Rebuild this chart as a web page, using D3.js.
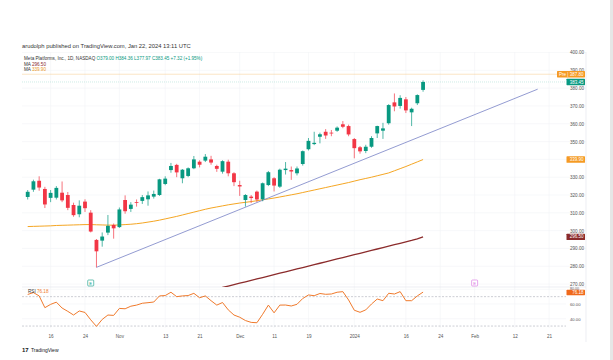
<!DOCTYPE html>
<html>
<head>
<meta charset="utf-8">
<script src="https://cdn.jsdelivr.net/npm/d3@7"></script>
<style>
  body { margin: 0; background: #fff; }
  svg text { font-family: "Liberation Sans", Arial, sans-serif; }
</style>
</head>
<body>
<script>
// trading days shown on the axis (incl. future space on the right)
var dates = [
  "2023-10-10","2023-10-11","2023-10-12","2023-10-13","2023-10-16","2023-10-17","2023-10-18","2023-10-19","2023-10-20",
  "2023-10-23","2023-10-24","2023-10-25","2023-10-26","2023-10-27","2023-10-30","2023-10-31",
  "2023-11-01","2023-11-02","2023-11-03","2023-11-06","2023-11-07","2023-11-08","2023-11-09","2023-11-10",
  "2023-11-13","2023-11-14","2023-11-15","2023-11-16","2023-11-17","2023-11-20","2023-11-21","2023-11-22","2023-11-24",
  "2023-11-27","2023-11-28","2023-11-29","2023-11-30",
  "2023-12-01","2023-12-04","2023-12-05","2023-12-06","2023-12-07","2023-12-08","2023-12-11","2023-12-12","2023-12-13",
  "2023-12-14","2023-12-15","2023-12-18","2023-12-19","2023-12-20","2023-12-21","2023-12-22","2023-12-26","2023-12-27",
  "2023-12-28","2023-12-29",
  "2024-01-02","2024-01-03","2024-01-04","2024-01-05","2024-01-08","2024-01-09","2024-01-10","2024-01-11","2024-01-12",
  "2024-01-16","2024-01-17","2024-01-18","2024-01-19","2024-01-22","2024-01-23","2024-01-24","2024-01-25","2024-01-26",
  "2024-01-29","2024-01-30","2024-01-31",
  "2024-02-01","2024-02-02","2024-02-05","2024-02-06","2024-02-07","2024-02-08","2024-02-09","2024-02-12","2024-02-13",
  "2024-02-14","2024-02-15","2024-02-16","2024-02-20","2024-02-21","2024-02-22","2024-02-23","2024-02-26","2024-02-27"
];

// daily candles, Oct 10 2023 .. Jan 19 2024
var open  = [318.9,323.0,328.0,323.4,318.4,318.5,321.3,320.0,314.4,309.2,316.3,310.1,294.8,294.4,298.9,303.2,
             302.0,317.2,312.2,316.0,316.7,317.6,319.1,320.0,326.2,334.0,336.9,329.4,330.7,335.0,338.7,339.3,340.0,
             336.3,333.1,338.7,332.2,325.6,317.2,319.1,321.9,317.6,325.6,329.4,324.7,334.0,334.0,332.2,337.4,345.7,
             348.6,352.7,355.5,355.0,356.1,359.7,358.7,351.4,346.8,344.7,347.1,354.6,356.1,360.3,372.0,370.0,373.7,
             366.4,371.5,379.0];
var high  = [322.8,328.6,330.5,324.6,322.8,325.0,327.6,321.7,315.7,317.0,317.6,311.5,295.3,299.0,308.8,304.0,
             313.0,319.8,316.0,317.5,320.0,322.0,322.5,329.1,330.5,338.0,337.5,334.6,335.5,341.9,339.5,343.0,342.0,
             337.0,339.5,339.8,332.8,328.0,320.5,320.0,322.5,327.0,333.5,330.0,334.8,338.5,336.0,336.0,345.0,352.0,
             355.5,355.0,357.0,356.5,358.5,361.5,359.5,352.0,347.5,348.2,353.0,358.9,360.5,371.0,377.0,376.0,375.0,
             369.0,376.5,384.36];
var low   = [317.5,321.8,322.4,312.7,316.0,317.5,316.0,311.5,307.8,307.5,310.5,299.0,279.4,291.0,297.5,295.5,
             301.5,309.5,310.5,313.5,315.0,314.0,318.0,319.5,325.5,332.5,330.0,326.6,330.0,334.5,335.5,338.5,337.0,
             333.0,332.0,330.5,325.0,319.5,313.5,315.5,316.0,316.5,325.0,322.0,324.0,331.5,328.5,331.0,336.5,345.0,
             348.0,349.0,351.5,353.0,355.5,357.5,353.0,340.6,343.2,343.5,346.5,352.0,351.5,359.5,367.0,368.5,366.0,
             358.7,370.5,377.97];
var close = [321.8,327.7,324.2,314.7,321.2,324.0,317.0,312.8,308.7,314.0,312.6,299.5,288.4,296.7,302.7,301.3,
             311.9,310.9,314.6,315.8,318.8,319.8,320.6,328.8,329.2,336.3,332.7,334.2,335.0,340.0,337.0,341.5,338.2,
             334.7,339.0,332.2,327.2,324.8,320.0,318.3,317.5,326.6,332.8,325.3,334.2,334.8,333.2,334.9,344.6,350.4,
             349.3,354.1,353.4,354.8,357.8,358.3,354.0,346.3,344.5,347.1,352.0,358.7,357.4,370.5,369.7,374.5,367.5,
             368.4,376.1,383.45];

// moving averages (orange = shorter, brown = longer)
var maFast = [302.3,302.4,302.5,302.6,302.7,302.9,303.0,303.1,303.2,303.3,303.4,303.4,303.3,303.2,303.1,303.1,
              303.2,303.4,303.6,303.9,304.3,304.8,305.3,305.9,306.6,307.3,308.0,308.8,309.6,310.4,311.2,312.0,312.7,
              313.3,313.9,314.5,315.0,315.5,315.9,316.3,316.8,317.3,317.8,318.3,318.9,319.5,320.1,320.7,321.4,322.1,
              322.8,323.5,324.2,324.9,325.6,326.3,327.0,327.8,328.6,329.3,330.0,330.8,331.6,332.4,333.6,334.8,336.0,
              337.3,338.6,339.9];
var maSlow = [null,null,null,null,null,null,null,null,null,null,null,null,null,null,null,null,
              null,null,null,null,null,null,null,null,null,null,null,null,null,null,264.9,265.7,266.5,
              267.3,268.1,268.9,269.7,270.5,271.3,272.1,272.9,273.7,274.5,275.3,276.1,276.9,277.7,278.5,279.3,280.1,
              280.9,281.7,282.5,283.3,284.1,284.9,285.7,286.5,287.3,288.1,288.9,289.7,290.5,291.3,292.1,292.9,293.7,
              294.5,295.4,296.5];

// RSI(14)
var rsi = [73.0,75.5,71.0,55.0,59.5,62.5,54.5,50.0,45.0,50.5,48.5,38.5,29.5,39.0,45.0,44.5,
           54.0,53.5,57.0,58.5,61.0,61.8,62.7,71.0,71.5,76.0,70.0,71.0,71.5,74.5,68.5,71.0,64.5,
           58.5,62.0,52.0,45.0,42.0,37.5,35.0,34.5,46.0,58.5,48.0,58.5,58.6,57.3,59.6,67.5,72.3,
           71.3,74.3,73.2,73.6,76.0,76.8,65.5,51.5,48.7,52.0,60.0,66.8,64.5,74.6,73.6,76.8,64.5,
           64.5,71.0,76.18];

// trend line drawing (two anchors) and earnings markers
var trendDates = ["2023-10-26", "2024-02-16"];
var trendPrices = [279.4, 379.4];
var earnDates = ["2023-10-25", "2024-02-01"];

var priceTicks = [270,280,290,300,310,320,330,340,350,360,370,380,390,400];
var rsiTicks = [40, 60, 80];
var rsiLevels = [70, 30];
var timeTicks = ["2023-10-16","2023-10-24","2023-11-01","2023-11-13","2023-11-21","2023-12-01","2023-12-11",
                 "2023-12-19","2024-01-02","2024-01-16","2024-01-24","2024-02-01","2024-02-12","2024-02-21"];
var timeLabels = ["16","24","Nov","13","21","Dec","11","19","2024","16","24","Feb","12","21"];

var preMarket = 387.80;
var lastChange = 7.32, lastPct = 1.95;

var up = "#089981", down = "#f23645";
var fastCol = "#f5a623", slowCol = "#8b2b2b", rsiCol = "#f07a2c", trendCol = "#8790cc";

var W = 613, H = 360;
var left = 22, right = 566, axisRight = 586;
var pTop = 48, pBot = 287, rTop = 287, rBot = 328;

var svg = d3.select("body").append("svg").attr("width", W).attr("height", H);

// page frame
svg.append("rect").attr("width", W).attr("height", H).attr("fill", "#fff");
svg.append("rect").attr("x", 610).attr("y", 0).attr("width", 3).attr("height", H).attr("fill", "#e6e6e6");

var x = d3.scalePoint().domain(dates).range([27.7, 27.7 + 5.73 * (dates.length - 1)]);
var y = d3.scaleLinear().domain([270, 390]).range([284.1, 70.3]);
var yr = d3.scaleLinear().domain([40, 60]).range([318.7, 304]);

var defs = svg.append("defs");
defs.append("clipPath").attr("id", "cp").append("rect")
  .attr("x", left).attr("y", pTop).attr("width", right - left).attr("height", pBot - pTop);
defs.append("clipPath").attr("id", "cr").append("rect")
  .attr("x", left).attr("y", rTop).attr("width", right - left).attr("height", rBot - rTop);

// header text
svg.append("text").attr("x", 22).attr("y", 47.5).attr("font-size", 5.8).attr("fill", "#333")
  .text("arudolph published on TradingView.com, Jan 22, 2024 13:11 UTC");

// grid
var grid = svg.append("g");
grid.selectAll(".hg").data(priceTicks).enter().append("line")
  .attr("x1", left).attr("x2", axisRight).attr("y1", d => y(d)).attr("y2", d => y(d))
  .attr("stroke", "#f2f3f6").attr("stroke-width", 0.6);
grid.selectAll(".vg").data(timeTicks).enter().append("line")
  .attr("x1", d => x(d)).attr("x2", d => x(d)).attr("y1", pTop + 4).attr("y2", rBot)
  .attr("stroke", "#f2f3f6").attr("stroke-width", 0.6);
grid.selectAll(".rg").data(rsiTicks).enter().append("line")
  .attr("x1", left).attr("x2", right).attr("y1", d => yr(d)).attr("y2", d => yr(d))
  .attr("stroke", "#f2f3f6").attr("stroke-width", 0.6);

// borders
svg.append("line").attr("x1", axisRight).attr("x2", axisRight).attr("y1", pTop + 4).attr("y2", rBot + 14)
  .attr("stroke", "#e0e3eb").attr("stroke-width", 0.6);
svg.append("line").attr("x1", left).attr("x2", axisRight).attr("y1", pBot).attr("y2", pBot)
  .attr("stroke", "#e0e3eb").attr("stroke-width", 0.6);

var plot = svg.append("g").attr("clip-path", "url(#cp)");

// pre-market and last price lines
plot.append("line").attr("x1", left).attr("x2", right).attr("y1", y(preMarket)).attr("y2", y(preMarket))
  .attr("stroke", "#f7c98a").attr("stroke-width", 0.5);
plot.append("line").attr("x1", left).attr("x2", right).attr("y1", y(close[69])).attr("y2", y(close[69]))
  .attr("stroke", "#9fd8cc").attr("stroke-width", 0.5).attr("stroke-dasharray", "1,1");

// moving averages
var idx = d3.range(close.length);
var fastLine = d3.line().x(i => x(dates[i])).y(i => y(maFast[i]));
plot.append("path").datum(idx).attr("d", fastLine)
  .attr("fill", "none").attr("stroke", fastCol).attr("stroke-width", 1);
var slowLine = d3.line().defined(i => maSlow[i] != null).x(i => x(dates[i])).y(i => y(maSlow[i]));
plot.append("path").datum(idx).attr("d", slowLine)
  .attr("fill", "none").attr("stroke", slowCol).attr("stroke-width", 1.3);

// trend line
plot.append("line")
  .attr("x1", x(trendDates[0])).attr("y1", y(trendPrices[0]))
  .attr("x2", x(trendDates[1])).attr("y2", y(trendPrices[1]))
  .attr("stroke", trendCol).attr("stroke-width", 0.9);

// candles
var c = plot.selectAll(".c").data(idx).enter().append("g");
c.append("line")
  .attr("x1", i => x(dates[i])).attr("x2", i => x(dates[i]))
  .attr("y1", i => y(high[i])).attr("y2", i => y(low[i]))
  .attr("stroke", i => close[i] >= open[i] ? up : down).attr("stroke-width", 0.7);
c.append("rect")
  .attr("x", i => x(dates[i]) - 1.9).attr("width", 3.8)
  .attr("y", i => y(Math.max(open[i], close[i])))
  .attr("height", i => Math.max(0.8, Math.abs(y(open[i]) - y(close[i]))))
  .attr("fill", i => close[i] >= open[i] ? up : down);

// earnings markers
var eCol = ["#089981", "#d76ce0"];
var em = svg.selectAll(".em").data(earnDates).enter().append("g")
  .attr("transform", d => "translate(" + x(d) + "," + 283 + ")");
em.append("rect").attr("x", -3).attr("y", -3).attr("width", 6).attr("height", 6).attr("rx", 0.8)
  .attr("fill", "#fff").attr("stroke", (d, i) => eCol[i]).attr("stroke-width", 0.6);
em.append("text").attr("text-anchor", "middle").attr("y", 1.6).attr("font-size", 4.2)
  .attr("fill", (d, i) => eCol[i]).text("E");

// price axis
var pAxis = svg.append("g").attr("transform", "translate(570,0)")
  .call(d3.axisRight(y).tickValues(priceTicks).tickSize(0).tickFormat(d3.format(".2f")));
pAxis.select(".domain").remove();
pAxis.selectAll("text").attr("x", 0).attr("font-size", 4.6).attr("fill", "#555");

// rsi pane
var rp = svg.append("g").attr("clip-path", "url(#cr)");
rp.selectAll(".lv").data(rsiLevels).enter().append("line")
  .attr("x1", left).attr("x2", right).attr("y1", d => yr(d)).attr("y2", d => yr(d))
  .attr("stroke", "#9a9ea8").attr("stroke-width", 0.5).attr("stroke-dasharray", "2,1.5");
var rsiLine = d3.line().x(i => x(dates[i])).y(i => yr(rsi[i]));
rp.append("path").datum(idx).attr("d", rsiLine)
  .attr("fill", "none").attr("stroke", rsiCol).attr("stroke-width", 1);

var rAxis = svg.append("g").attr("transform", "translate(570,0)")
  .call(d3.axisRight(yr).tickValues(rsiTicks).tickSize(0).tickFormat(d3.format(".2f")));
rAxis.select(".domain").remove();
rAxis.selectAll("text").attr("x", 0).attr("font-size", d => d === 80 ? 3.6 : 4.2).attr("fill", "#555")
  .attr("dy", d => d === 80 ? "-0.05em" : "0.32em");

// time axis
var tAxis = svg.append("g").attr("transform", "translate(0,332)")
  .call(d3.axisBottom(x).tickValues(timeTicks).tickSize(0).tickFormat((d, i) => timeLabels[i]));
tAxis.select(".domain").remove();
tAxis.selectAll("text").attr("font-size", 4.6).attr("fill", "#555");

// price badges
function badge(v, col, label, xl, h) {
  var g = svg.append("g").attr("transform", "translate(0," + v + ")");
  g.append("rect").attr("x", xl).attr("y", -h / 2).attr("width", 585 - xl).attr("height", h)
    .attr("rx", 0.6).attr("fill", col);
  g.append("text").attr("x", 583.5).attr("y", 1.6).attr("text-anchor", "end")
    .attr("font-size", 4.5).attr("fill", "#fff").text(label);
}
badge(y(maFast[69]), "#f59a23", d3.format(".2f")(maFast[69]), 566.5, 6.4);
badge(y(maSlow[69]), slowCol, d3.format(".2f")(maSlow[69]), 566.5, 6.4);
badge(y(close[69]), up, d3.format(".2f")(close[69]), 566.5, 6.4);
badge(y(preMarket), "#f59a23", "Pre  |  " + d3.format(".2f")(preMarket), 557, 6.4);
badge(yr(rsi[69]) + 0.4, "#f06a1c", d3.format(".2f")(rsi[69]), 566.5, 5.4);

// legend
var lg = svg.append("g").attr("font-size", 4.6);
var t1 = lg.append("text").attr("x", 24).attr("y", 60).attr("fill", "#333");
t1.append("tspan").text("Meta Platforms, Inc., 1D, NASDAQ  ");
t1.append("tspan").attr("fill", up)
  .text(" O" + d3.format(".2f")(open[69]) + "  H" + d3.format(".2f")(high[69]) + "  L" + d3.format(".2f")(low[69]) +
        "  C" + d3.format(".2f")(close[69]) + "  +" + lastChange.toFixed(2) + " (+" + lastPct.toFixed(2) + "%)");
var t2 = lg.append("text").attr("x", 24).attr("y", 65.5).attr("fill", "#333");
t2.append("tspan").text("MA  ");
t2.append("tspan").attr("fill", slowCol).text(d3.format(".2f")(maSlow[69]));
var t3 = lg.append("text").attr("x", 24).attr("y", 71).attr("fill", "#333");
t3.append("tspan").text("MA  ");
t3.append("tspan").attr("fill", "#e8961e").text(d3.format(".2f")(maFast[69]));
var t4 = lg.append("text").attr("x", 28).attr("y", 293).attr("fill", "#333");
t4.append("tspan").text("RSI  ");
t4.append("tspan").attr("fill", rsiCol).text(d3.format(".2f")(rsi[69]));

// footer logo
var ft = svg.append("g").attr("transform", "translate(22,352)");
ft.append("text").attr("font-size", 6).attr("font-weight", "bold").attr("fill", "#131722").text("17");
ft.append("text").attr("x", 9).attr("font-size", 5).attr("fill", "#131722").text("TradingView");
</script>
</body>
</html>
